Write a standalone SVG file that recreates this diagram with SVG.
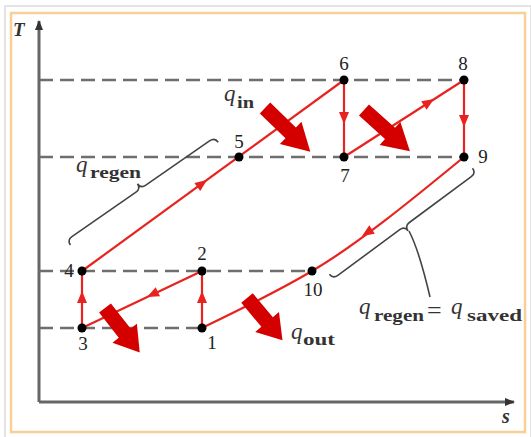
<svg xmlns="http://www.w3.org/2000/svg" xmlns:xlink="http://www.w3.org/1999/xlink" width="531" height="437" viewBox="0 0 531 437">
<style>
.dash{stroke:#6e6e6e;stroke-width:2.5;stroke-dasharray:14 7;fill:none}
.axis{stroke:#666;stroke-width:3;fill:none}
.red{stroke:#e8231f;stroke-width:2.2;fill:none}
.ah{fill:#e8231f}
.big{fill:#d40000}
.brace{stroke:#444;stroke-width:1.6;fill:none}
.dot{fill:#000}
.num{font-family:"Liberation Serif",serif;font-size:19px;fill:#222;text-anchor:middle}
.q{font-family:"Liberation Serif",serif;font-style:italic;font-size:23px;fill:#333}
.sub{font-family:"Liberation Serif",serif;font-weight:bold;font-size:16px;fill:#333}
.ax{font-family:"Liberation Serif",serif;font-style:italic;font-weight:bold;fill:#333}
</style>
<defs>
<path id="ah" d="M0,0 L-12,-5 L-12,5 Z"/>
<path id="bigarrow" d="M0,-7.5 L34,-7.5 L34,-15.5 L60,0 L34,15.5 L34,7.5 L0,7.5 Z"/>
<marker id="axhead" markerWidth="10" markerHeight="10" refX="9" refY="5" orient="auto" markerUnits="userSpaceOnUse">
<path d="M0,1 L10,5 L0,9 Z" fill="#333"/>
</marker>
</defs>
<rect x="0" y="0" width="531" height="437" fill="#fff"/>
<rect x="5" y="6" width="526" height="432" fill="none" stroke="#dcdcdc" stroke-width="1.5"/>
<rect x="11" y="13" width="514" height="419" fill="#fff" stroke="#f8cf95" stroke-width="2.5"/>

<g id="axes">
<line class="axis" x1="39" y1="402" x2="39" y2="21" marker-end="url(#axhead)"/>
<line class="axis" x1="39" y1="402" x2="514" y2="402" marker-end="url(#axhead)"/>
<text class="ax" x="13" y="36" font-size="19">T</text>
<text class="ax" x="502" y="423" font-size="20" font-weight="normal">s</text>
</g>

<g id="isotherms">
<line class="dash" x1="39" y1="80" x2="464" y2="80"/>
<line class="dash" x1="39" y1="157" x2="464" y2="157"/>
<line class="dash" x1="39" y1="271" x2="312" y2="271"/>
<line class="dash" x1="39" y1="328" x2="202" y2="328"/>
</g>

<g id="connectors">
<path class="red" d="M82,271 L344,80"/>
<path class="red" d="M344,80 L344,157"/>
<path class="red" d="M344,157 L464,80"/>
<path class="red" d="M464,80 L464,157"/>
<path class="red" d="M464,157 C420,193 360,243 312,271 C275,293 235,312 202,328"/>
<path class="red" d="M202,328 L202,271"/>
<path class="red" d="M202,271 L82,328"/>
<path class="red" d="M82,328 L82,271"/>
<use xlink:href="#ah" class="ah" transform="translate(207,180) rotate(-36.1)"/>
<use xlink:href="#ah" class="ah" transform="translate(344,124) rotate(90)"/>
<use xlink:href="#ah" class="ah" transform="translate(434,99) rotate(-32.7)"/>
<use xlink:href="#ah" class="ah" transform="translate(464,127) rotate(90)"/>
<use xlink:href="#ah" class="ah" transform="translate(362,236) rotate(147)"/>
<use xlink:href="#ah" class="ah" transform="translate(147,297) rotate(154.6)"/>
<use xlink:href="#ah" class="ah" transform="translate(202,291) rotate(-90)"/>
<use xlink:href="#ah" class="ah" transform="translate(82,291) rotate(-90)"/>
</g>

<g id="heat-arrows">
<use xlink:href="#bigarrow" class="big" transform="translate(265,108) rotate(44) scale(1.05,1)"/>
<use xlink:href="#bigarrow" class="big" transform="translate(364,110) rotate(42) scale(1.03,1)"/>
<use xlink:href="#bigarrow" class="big" transform="translate(105,308) rotate(52) scale(0.94,1)"/>
<use xlink:href="#bigarrow" class="big" transform="translate(247,298) rotate(50) scale(0.92,1)"/>
</g>

<g id="braces">
<path class="brace" transform="translate(67,240) rotate(-34.8)" d="M0,6 Q0,0 6,0 L84,0 Q90,0 90,-6 Q90,0 96,0 L174,0 Q180,0 180,6"/>
<path class="brace" transform="translate(333,279) rotate(-36.5)" d="M0,-6 Q0,0 6,0 L83,0 Q89,0 89,6 Q89,0 95,0 L172,0 Q178,0 178,-6"/>
<path class="brace" d="M409,231 Q419,250 430,297"/>
</g>

<g id="p1"><circle class="dot" cx="202" cy="328" r="4.5"/><text class="num" x="212" y="349">1</text></g>
<g id="p2"><circle class="dot" cx="202" cy="271" r="4.5"/><text class="num" x="202" y="260">2</text></g>
<g id="p3"><circle class="dot" cx="82" cy="328" r="4.5"/><text class="num" x="83" y="350">3</text></g>
<g id="p4"><circle class="dot" cx="82" cy="271" r="4.5"/><text class="num" x="69" y="277">4</text></g>
<g id="p5"><circle class="dot" cx="239" cy="157" r="4.5"/><text class="num" x="239" y="148">5</text></g>
<g id="p6"><circle class="dot" cx="344" cy="80" r="4.5"/><text class="num" x="344" y="70">6</text></g>
<g id="p7"><circle class="dot" cx="344" cy="157" r="4.5"/><text class="num" x="345" y="182">7</text></g>
<g id="p8"><circle class="dot" cx="464" cy="80" r="4.5"/><text class="num" x="463" y="70">8</text></g>
<g id="p9"><circle class="dot" cx="464" cy="157" r="4.5"/><text class="num" x="483" y="163">9</text></g>
<g id="p10"><circle class="dot" cx="312" cy="271" r="4.5"/><text class="num" x="313" y="296">10</text></g>

<g id="labels">
<text class="q" x="224" y="101">q</text><text class="sub" x="237" y="108" textLength="17" lengthAdjust="spacingAndGlyphs">in</text>
<text class="q" x="76" y="172">q</text><text class="sub" x="90" y="178" textLength="51" lengthAdjust="spacingAndGlyphs">regen</text>
<text class="q" x="291" y="339">q</text><text class="sub" x="303" y="345" textLength="32" lengthAdjust="spacingAndGlyphs">out</text>
<text class="q" x="359" y="314">q</text><text class="sub" x="374" y="321" textLength="50" lengthAdjust="spacingAndGlyphs">regen</text>
<text font-family="Liberation Serif, serif" font-size="26" fill="#333" x="427" y="319">=</text>
<text class="q" x="451" y="314">q</text><text class="sub" x="467" y="321" textLength="55" lengthAdjust="spacingAndGlyphs">saved</text>
</g>
</svg>
